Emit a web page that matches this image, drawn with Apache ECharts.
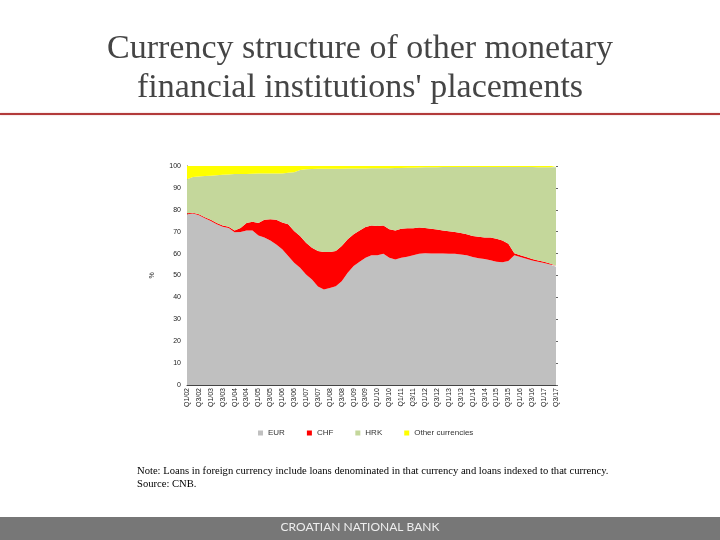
<!DOCTYPE html>
<html>
<head>
<meta charset="utf-8">
<script src="https://cdn.jsdelivr.net/npm/echarts@6/dist/echarts.min.js"></script>
<style>
  html, body { margin: 0; padding: 0; background: #fff; }
  #main { width: 720px; height: 540px; }
</style>
</head>
<body>
<div id="main"></div>
<script>
// quarters, Q1/02 .. Q3/17
var quarters = [
    'Q1/02','Q2/02','Q3/02','Q4/02','Q1/03','Q2/03','Q3/03','Q4/03',
    'Q1/04','Q2/04','Q3/04','Q4/04','Q1/05','Q2/05','Q3/05','Q4/05',
    'Q1/06','Q2/06','Q3/06','Q4/06','Q1/07','Q2/07','Q3/07','Q4/07',
    'Q1/08','Q2/08','Q3/08','Q4/08','Q1/09','Q2/09','Q3/09','Q4/09',
    'Q1/10','Q2/10','Q3/10','Q4/10','Q1/11','Q2/11','Q3/11','Q4/11',
    'Q1/12','Q2/12','Q3/12','Q4/12','Q1/13','Q2/13','Q3/13','Q4/13',
    'Q1/14','Q2/14','Q3/14','Q4/14','Q1/15','Q2/15','Q3/15','Q4/15',
    'Q1/16','Q2/16','Q3/16','Q4/16','Q1/17','Q2/17','Q3/17'
];
var seriesNames = ['EUR', 'CHF', 'HRK', 'Other currencies'];
var colors = ['#c0c0c0', '#ff0000', '#c4d79b', '#ffff00'];

// shares in %
var eur = [78.0,78.3,77.5,76.1,74.9,73.4,72.3,71.7,69.7,69.9,70.6,70.6,68.3,67.3,66.0,64.2,
    62.0,58.9,55.8,53.5,50.5,48.2,45.0,43.6,44.3,45.1,47.4,51.2,54.3,56.3,58.1,59.2,
    59.2,59.9,58.1,57.3,58.1,58.6,59.2,59.9,60.2,60.1,60.1,60.1,59.9,59.9,59.6,59.2,
    58.4,57.9,57.5,57.0,56.3,56.1,56.6,59.2,58.4,57.6,56.9,56.3,55.7,55.0,54.0];
var chf = [0.4,0.3,0.5,0.5,0.6,0.6,0.5,0.6,0.9,1.8,3.4,4.0,5.7,8.2,9.7,11.2,
    12.2,14.5,14.5,14.5,14.5,14.5,16.2,17.1,16.4,16.1,16.1,15.3,14.5,14.3,14.1,13.6,
    13.4,12.9,13.0,13.3,13.2,13.0,12.4,12.0,11.5,11.2,10.9,10.4,10.3,10.0,9.8,9.6,
    9.6,9.8,9.9,10.3,10.5,9.9,7.9,1.0,0.8,0.8,0.6,0.6,0.6,0.5,0.4];
var hrk = [15.6,16.4,17.2,18.8,20.1,21.8,23.2,23.8,25.7,24.6,22.3,21.9,22.6,21.1,20.9,21.2,
    22.4,23.5,26.8,30.2,33.5,35.9,37.5,38.0,38.1,37.6,35.3,32.4,30.1,28.3,26.7,26.2,
    26.4,26.2,27.9,28.5,27.8,27.6,27.6,27.4,27.7,28.1,28.4,29.0,29.3,29.6,30.1,30.7,
    31.5,31.8,32.1,32.2,32.7,33.5,35.0,39.3,40.3,41.1,42.0,42.5,43.1,43.9,45.0];
var other = [6.0,5.0,4.8,4.6,4.4,4.2,4.0,3.9,3.7,3.7,3.7,3.5,3.4,3.4,3.4,3.4,
    3.4,3.1,2.9,1.8,1.5,1.4,1.3,1.3,1.2,1.2,1.2,1.1,1.1,1.1,1.1,1.0,
    1.0,1.0,1.0,0.9,0.9,0.8,0.8,0.7,0.6,0.6,0.6,0.5,0.5,0.5,0.5,0.5,
    0.5,0.5,0.5,0.5,0.5,0.5,0.5,0.5,0.5,0.5,0.5,0.6,0.6,0.6,0.6];
var yTicks = [0, 100, 10];

var chart = echarts.init(document.getElementById('main'));

var values = [eur, chf, hrk, other];
var series = [];
for (var i = 0; i < seriesNames.length; i++) {
    series.push({
        name: seriesNames[i],
        type: 'line',
        stack: 'total',
        symbol: 'none',
        lineStyle: { width: 0 },
        areaStyle: { color: colors[i], opacity: 1 },
        itemStyle: { color: colors[i] },
        data: values[i]
    });
}

var option = {
    animation: false,
    backgroundColor: '#fff',
    title: {
        text: 'Currency structure of other monetary\nfinancial institutions\' placements',
        left: 'center',
        top: 25,
        textStyle: {
            fontFamily: 'Liberation Serif',
            fontWeight: 'normal',
            fontSize: 34,
            lineHeight: 39,
            color: '#454545'
        }
    },
    legend: {
        data: seriesNames,
        left: 253,
        top: 424,
        itemWidth: 5,
        itemHeight: 5,
        itemGap: 22,
        icon: 'rect',
        textStyle: { fontSize: 8, color: '#333', fontFamily: 'Liberation Sans' }
    },
    grid: { left: 187, right: 164, top: 166, bottom: 155 },
    xAxis: {
        type: 'category',
        boundaryGap: false,
        data: quarters,
        axisLine: { lineStyle: { color: '#444', width: 1 } },
        axisTick: { show: false },
        axisLabel: {
            interval: 1,
            rotate: 90,
            fontSize: 7,
            margin: 3,
            color: '#222',
            fontFamily: 'Liberation Sans'
        }
    },
    yAxis: [{
        type: 'value',
        min: yTicks[0],
        max: yTicks[1],
        interval: yTicks[2],
        name: '%',
        nameLocation: 'middle',
        nameGap: 31,
        nameTextStyle: { fontSize: 7, color: '#333' },
        axisLine: { show: true, lineStyle: { color: '#444', width: 1 } },
        axisTick: { show: false },
        splitLine: { show: false },
        axisLabel: { fontSize: 7, color: '#222', margin: 6, fontFamily: 'Liberation Sans' }
    }, {
        type: 'value',
        position: 'right',
        min: yTicks[0],
        max: yTicks[1],
        interval: yTicks[2],
        axisLine: { show: false },
        axisTick: { show: true, length: 2, lineStyle: { color: '#666' } },
        splitLine: { show: false },
        axisLabel: { show: false }
    }],
    graphic: [
        {
            type: 'rect',
            shape: { x: 0, y: 113, width: 720, height: 2 },
            style: { fill: '#b23a3a', shadowColor: 'rgba(178,58,58,0.35)', shadowBlur: 2 },
            silent: true
        },
        {
            type: 'text',
            left: 137,
            top: 465,
            style: {
                text: 'Note: Loans in foreign currency include loans denominated in that currency and loans indexed to that currency.\nSource: CNB.',
                fontFamily: 'Liberation Serif',
                fontSize: 10.6,
                lineHeight: 13,
                fill: '#000'
            }
        },
        {
            type: 'rect',
            shape: { x: 0, y: 517, width: 720, height: 23 },
            style: { fill: '#777777' },
            silent: true
        },
        {
            type: 'text',
            left: 'center',
            top: 521,
            style: {
                text: 'CROATIAN NATIONAL BANK',
                fontFamily: 'Lato',
                fontSize: 12,
                fill: '#eeeeee'
            }
        }
    ],
    series: series
};

chart.setOption(option);
</script>
</body>
</html>
